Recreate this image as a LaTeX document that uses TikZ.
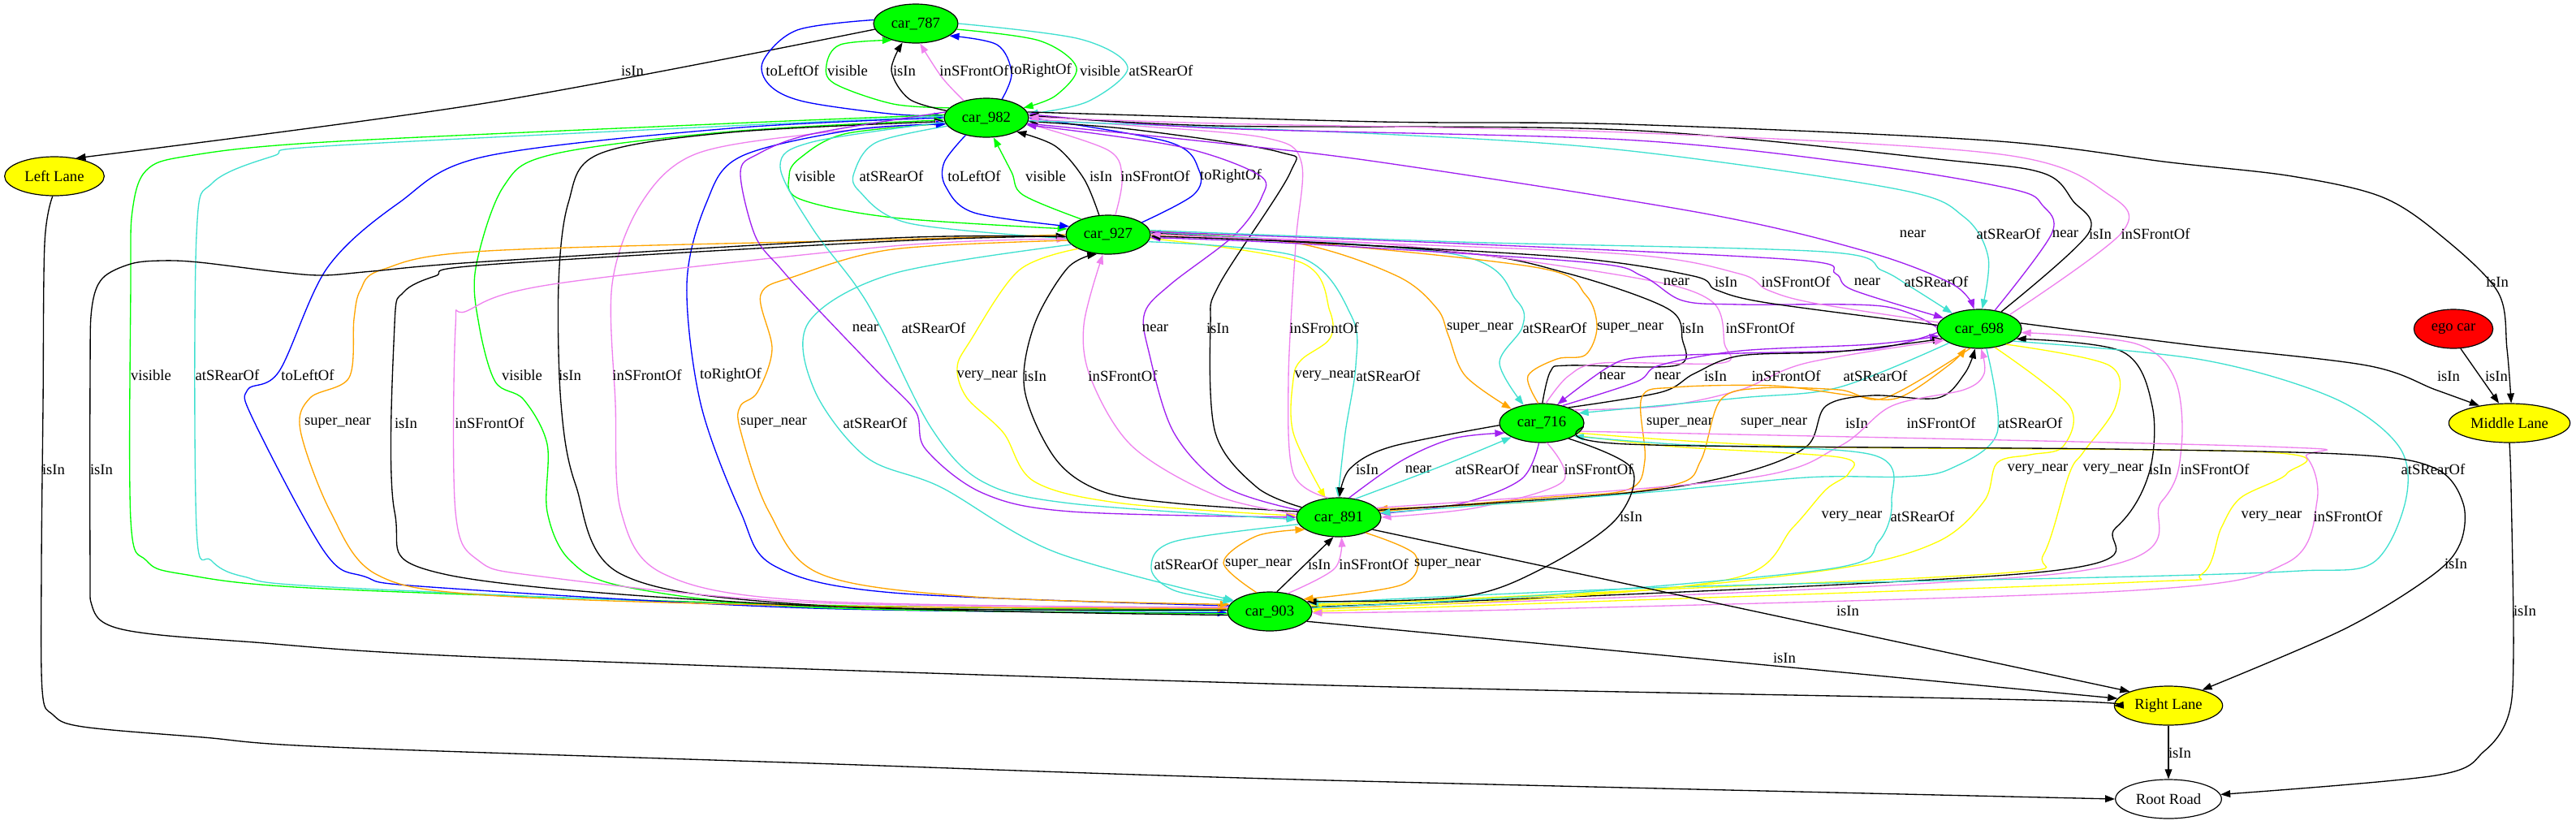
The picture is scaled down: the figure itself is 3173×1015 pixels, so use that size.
\documentclass[tikz,border=0pt]{standalone}
\usepackage{fontspec}
\setmainfont{Liberation Serif}
\usetikzlibrary{arrows.meta, shapes.geometric}
\definecolor{gvgreen}{HTML}{00FF00}
\definecolor{gvblue}{HTML}{0000FF}
\definecolor{gvviolet}{HTML}{EE82EE}
\definecolor{gvpurple}{HTML}{A020F0}
\definecolor{gvturq}{HTML}{40E0D0}
\definecolor{gvorange}{HTML}{FFA500}
\definecolor{gvyellow}{HTML}{FFFF00}
\definecolor{gvred}{HTML}{FF0000}
\newcommand{\rel}[5]{
    \draw[rel, #1] plot[smooth, tension=0.55] coordinates {#5};
    \node[lab] (#2) at (#3) {#4};
}

\begin{document}
\begin{tikzpicture}[x=0.75pt, y=-0.75pt,
    obj/.style={ellipse, draw, line width=0.9pt, minimum height=36pt, inner sep=0pt, font=\fontsize{14}{16}\selectfont},
    car/.style={obj, fill=gvgreen, minimum width=78pt},
    lane/.style={obj, fill=gvyellow},
    rel/.style={line width=1pt, -{Triangle[length=9pt, width=6.5pt]}},
    lab/.style={inner sep=0pt, font=\fontsize{14}{16}\selectfont}]
    \useasboundingbox (0,0) rectangle (3173,1015);
    \node[car] (car787) at (1128,29) {car\_787};
    \node[car] (car982) at (1215,145) {car\_982};
    \node[car] (car927) at (1365,289) {car\_927};
    \node[car] (car716) at (1899,521) {car\_716};
    \node[car] (car698) at (2438,405) {car\_698};
    \node[car] (car891) at (1649,637) {car\_891};
    \node[car] (car903) at (1564,753) {car\_903};
    \node[lane, minimum width=92pt] (leftlane) at (67,217) {Left Lane};
    \node[lane, minimum width=112pt] (middlelane) at (3091,521) {Middle Lane};
    \node[lane, minimum width=100pt] (rightlane) at (2671,869) {Right Lane};
    \node[obj, fill=white, minimum width=98pt] (rootroad) at (2671,984) {Root Road};
    \node[obj, fill=gvred, minimum width=73pt] (egocar) at (3022,405) {ego car};

    \rel{black}{l1}{779,87}{isIn}{(car787.188) (598,127) (leftlane.40)}
    \rel{gvblue}{l2}{976,87}{toLeftOf}{(car787.175) (982,37) (940,75) (948,105) (990,125) (1095,140) (car982.178)}
    \rel{gvgreen}{l3}{1044,87}{visible}{(car982.165) (1100,128) (1028,103) (1018,80) (1035,55) (car787.215)}
    \rel{black}{l4}{1114,87}{isIn}{(car982.170) (1120,122) (1098,87) (car787.235)}
    \rel{gvviolet}{l5}{1200,87}{inSFrontOf}{(car982.143) (1160,95) (car787.282)}
    \rel{gvblue}{l6}{1282,87}{toRightOf}{(car982.50) (1246,90) (1228,55) (car787.340)}
    \rel{gvgreen}{l7}{1355,87}{visible}{(car787.352) (1280,50) (1326,83) (1300,118) (car982.15)}
    \rel{gvturq}{l8}{1430,87}{atSRearOf}{(car787.0) (1330,48) (1389,83) (1340,125) (car982.5)}

    \rel{gvgreen}{l9}{1004,217}{visible}{(car982.188) (1040,165) (985,195) (972,217) (985,245) (1100,268) (car927.172)}
    \rel{gvturq}{l10}{1098,217}{atSRearOf}{(car982.192) (1080,175) (1053,210) (1058,235) (1120,275) (car927.185)}
    \rel{gvblue}{l11}{1200,217}{toLeftOf}{(car982.220) (1163,200) (1165,230) (1200,262) (car927.168)}
    \rel{gvgreen}{l12}{1288,217}{visible}{(car927.150) (1260,240) (1246,212) (car982.290)}
    \rel{black}{l13}{1356,217}{isIn}{(car927.115) (1335,220) (1300,180) (car982.335)}
    \rel{gvviolet}{l14}{1423,217}{inSFrontOf}{(car927.70) (1382,220) (1365,185) (car982.352)}
    \rel{gvblue}{l15}{1516,217}{toRightOf}{(car927.20) (1470,240) (1477,210) (1440,175) (car982.0)}

    \rel{gvgreen}{l16}{186,462}{visible}{(car982.176) (900,152) (400,175) (232,192) (180,210) (163,260) (161,350) (161,640) (180,690) (225,707) (400,725) (1000,745) (car903.178)}
    \rel{gvturq}{l17}{280,462}{atSRearOf}{(car982.178) (900,155) (400,180) (337,192) (262,225) (242,290) (242,650) (260,690) (300,710) (408,723) (1000,747) (car903.180)}
    \rel{gvblue}{l18}{379,462}{toLeftOf}{(car982.180) (900,158) (596,193) (491,250) (403,330) (344,457) (305,480) (312,517) (400,680) (449,710) (531,723) (1000,749) (car903.182)}
    \rel{gvgreen}{l19}{643,462}{visible}{(car903.183) (1000,748) (772,723) (702,690) (674,630) (674,547) (645,492) (610,470) (590,400) (586,330) (620,230) (681,190) (900,162) (car982.183)}
    \rel{black}{l20}{702,462}{isIn}{(car903.185) (1000,745) (765,707) (709,597) (691,497) (688,350) (700,250) (737,190) (900,163) (car982.185)}
    \rel{gvviolet}{l21}{797,462}{inSFrontOf}{(car903.175) (1000,740) (818,707) (765,630) (758,497) (754,350) (790,250) (856,190) (1000,165) (car982.187)}
    \rel{gvblue}{l22}{900,462}{toRightOf}{(car903.172) (1100,730) (954,697) (912,630) (863,497) (846,350) (870,250) (912,193) (1050,160) (car982.189)}

    \rel{gvorange}{l23}{416,521}{super\_near}{(car927.180) (1100,295) (600,309) (471,332) (444,357) (436,393) (430,465) (382,490) (370,530) (407,630) (463,707) (600,733) (1000,746) (car903.176)}
    \rel{black}{l24}{500,521}{isIn}{(car903.178) (1000,746) (547,707) (486,630) (486,400) (497,360) (536,340) (600,326) (1100,297) (car927.182)}
    \rel{gvviolet}{l25}{603,521}{inSFrontOf}{(car903.174) (1000,742) (667,710) (589,690) (561,630) (561,403) (575,383) (681,350) (1100,303) (car927.186)}
    \rel{gvorange}{l26}{953,521}{super\_near}{(car927.188) (1100,307) (980,340) (937,363) (951,430) (933,483) (912,500) (912,530) (947,630) (1011,707) (1200,735) (car903.170)}
    \rel{gvturq}{l27}{1078,521}{atSRearOf}{(car927.195) (1100,337) (996,397) (1003,480) (1067,563) (1159,600) (1300,680) (car903.163)}

    \rel{gvyellow}{l28}{1216,463}{very\_near}{(car927.205) (1255,333) (1195,420) (1179,453) (1191,490) (1236,533) (1274,593) (1383,620) (car891.178)}
    \rel{black}{l29}{1275,463}{isIn}{(car891.172) (1450,620) (1357,605) (1300,565) (1262,480) (1274,400) (1315,330) (car927.240)}
    \rel{gvviolet}{l30}{1383,463}{inSFrontOf}{(car891.176) (1497,610) (1395,550) (1344,467) (1335,400) (car927.255)}
    \rel{gvyellow}{l31}{1632,463}{very\_near}{(car927.355) (1602,323) (1638,383) (1638,417) (1603,443) (1593,467) (1593,533) (car891.125)}
    \rel{gvturq}{l32}{1710,463}{atSRearOf}{(car927.350) (1602,317) (1665,390) (1670,450) (1657,533) (car891.92)}

    \rel{gvpurple}{l33}{1066,404}{near}{(car982.172) (1000,165) (933,190) (912,213) (930,290) (961,330) (1000,373) (1083,460) (1128,507) (1140,553) (1210,607) (1319,630) (car891.180)}
    \rel{gvturq}{l34}{1150,404}{atSRearOf}{(car982.186) (1000,175) (961,205) (1000,280) (1053,350) (1083,400) (1147,527) (1210,593) (1319,620) (car891.183)}
    \rel{gvpurple}{l35}{1423,404}{near}{(car891.170) (1510,600) (1446,533) (1415,433) (1410,385) (1442,350) (1520,290) (1554,243) (1550,215) (1450,180) (car982.350)}
    \rel{black}{l36}{1500,404}{isIn}{(car891.165) (1548,600) (1497,533) (1491,400) (1502,350) (1589,213) (1575,187) (1400,160) (car982.355)}
    \rel{gvviolet}{l37}{1631,404}{inSFrontOf}{(car891.118) (1593,583) (1587,467) (1596,300) (1603,200) (1560,170) (1400,155) (car982.358)}

    \rel{gvorange}{l38}{1823,404}{super\_near}{(car927.5) (1600,300) (1721,340) (1770,380) (1784,413) (1805,463) (car716.155)}
    \rel{gvturq}{l39}{1915,404}{atSRearOf}{(car927.3) (1791,313) (1868,370) (1875,403) (1847,447) (car716.135)}
    \rel{gvorange}{l40}{2008,404}{super\_near}{(car716.100) (1882,463) (1918,442) (1953,437) (1967,403) (1953,363) (1896,330) (1600,298) (car927.0)}
    \rel{black}{l41}{2085,404}{isIn}{(car716.88) (1910,457) (1932,450) (2065,450) (2072,417) (2054,380) (1932,337) (1791,310) (car927.2)}
    \rel{gvviolet}{l42}{2168,404}{inSFrontOf}{(car716.78) (1932,463) (1974,447) (2121,447) (2124,423) (2107,370) (2002,340) (1700,300) (car927.357)}

    \rel{gvpurple}{l43}{2065,347}{near}{(car698.178) (2318,377) (2142,375) (2072,370) (2023,340) (1953,323) (1600,300) (car927.356)}
    \rel{black}{l44}{2126,347}{isIn}{(car698.175) (2177,373) (2114,357) (2086,340) (1932,317) (1600,298) (car927.358)}
    \rel{gvviolet}{l45}{2212,347}{inSFrontOf}{(car698.171) (2233,373) (2177,357) (2142,337) (2002,313) (1600,296) (car927.1)}
    \rel{gvpurple}{l46}{2300,347}{near}{(car927.4) (1800,300) (2212,320) (2261,337) (2282,357) (car698.163)}
    \rel{gvturq}{l47}{2385,347}{atSRearOf}{(car927.6) (1800,298) (2247,310) (2318,333) (2353,353) (car698.150)}

    \rel{gvpurple}{l48}{2356,288}{near}{(car982.352) (1491,175) (1702,200) (2100,263) (2300,310) (2405,350) (car698.105)}
    \rel{gvturq}{l49}{2474,288}{atSRearOf}{(car982.356) (1700,165) (2000,185) (2337,233) (2419,267) (2449,317) (car698.82)}
    \rel{gvpurple}{l50}{2544,288}{near}{(car698.50) (2527,288) (2516,253) (2479,233) (2299,203) (2000,172) (1500,158) (car982.5)}
    \rel{black}{l51}{2587,288}{isIn}{(car698.38) (2572,288) (2553,247) (2516,213) (2396,197) (2000,160) (1500,155) (car982.3)}
    \rel{gvviolet}{l52}{2655,288}{inSFrontOf}{(car698.25) (2613,287) (2598,240) (2464,190) (2000,163) (1500,152) (car982.1)}

    \rel{gvpurple}{l53}{1986,463}{near}{(car698.185) (2306,430) (2144,435) (2022,440) (1981,452) (car716.50)}
    \rel{gvpurple}{l54}{2054,463}{near}{(car716.40) (2016,470) (2044,450) (2144,432) (2306,424) (car698.190)}
    \rel{black}{l55}{2113,463}{isIn}{(car716.30) (2046,483) (2087,460) (2144,438) (2265,433) (car698.195)}
    \rel{gvviolet}{l56}{2200,463}{inSFrontOf}{(car716.22) (2050,500) (2144,480) (2225,447) (car698.198)}
    \rel{gvturq}{l57}{2310,463}{atSRearOf}{(car698.205) (2265,477) (2144,490) (car716.15)}

    \rel{black}{l58}{1684,578}{isIn}{(car716.183) (1714,550) (1663,577) (car891.88)}
    \rel{gvpurple}{l59}{1747,578}{near}{(car891.62) (1727,567) (1790,540) (car716.195)}
    \rel{gvturq}{l60}{1832,578}{atSRearOf}{(car891.48) (1778,573) (car716.205)}
    \rel{gvpurple}{l61}{1903,578}{near}{(car716.262) (1874,590) (1800,620) (car891.5)}
    \rel{gvviolet}{l62}{1969,578}{inSFrontOf}{(car716.285) (1925,593) (1820,625) (car891.0)}

    \rel{gvorange}{l63}{2069,521}{super\_near}{(car891.8) (1900,613) (2005,603) (2026,567) (2022,490) (2062,477) (2184,475) (2281,487) (2338,490) (2400,450) (car698.235)}
    \rel{gvorange}{l64}{2185,521}{super\_near}{(car698.245) (2322,490) (2265,480) (2168,478) (2119,493) (2095,567) (2062,597) (1900,617) (car891.12)}
    \rel{black}{l65}{2287,521}{isIn}{(car891.10) (2005,607) (2144,583) (2225,550) (2249,500) (2306,487) (2387,490) (2420,460) (car698.258)}
    \rel{gvviolet}{l66}{2391,521}{inSFrontOf}{(car891.14) (2144,590) (2265,550) (2330,500) (2419,480) (2444,460) (car698.275)}
    \rel{gvturq}{l67}{2501,521}{atSRearOf}{(car698.290) (2460,533) (2403,577) (2346,587) (2225,588) (2022,607) (car891.6)}

    \rel{gvyellow}{l68}{2510,578}{very\_near}{(car698.310) (2549,500) (2541,550) (2501,560) (2460,570) (2444,617) (2387,667) (2265,700) (1981,730) (car903.10)}
    \rel{gvyellow}{l69}{2603,578}{very\_near}{(car698.330) (2598,450) (2606,500) (2566,557) (2549,583) (2517,683) (2476,705) (2022,727) (car903.8)}
    \rel{black}{l70}{2661,578}{isIn}{(car903.6) (2509,705) (2606,650) (2647,583) (2651,500) (2614,433) (car698.345)}
    \rel{gvviolet}{l71}{2728,578}{inSFrontOf}{(car903.4) (2549,705) (2663,617) (2687,550) (2679,467) (2630,423) (car698.355)}
    \rel{gvturq}{l72}{2997,578}{atSRearOf}{(car698.340) (2712,443) (2874,490) (2955,550) (2963,617) (2923,693) (2833,703) (2630,710) (2062,723) (car903.12)}

    \rel{black}{l73}{2009,636}{isIn}{(car716.330) (2010,577) (1990,640) (1900,700) (1800,735) (car903.15)}
    \rel{gvyellow}{l74}{2281,636}{very\_near}{(car716.340) (2062,550) (2265,563) (2277,583) (2249,603) (2208,650) (2144,710) (1900,737) (car903.3)}
    \rel{gvturq}{l75}{2368,636}{atSRearOf}{(car903.5) (1900,733) (2257,700) (2314,667) (2330,617) (2306,560) (2062,547) (car716.338)}
    \rel{gvyellow}{l76}{2798,636}{very\_near}{(car716.345) (2225,550) (2793,557) (2817,583) (2760,613) (2736,650) (2712,707) (2630,717) (1900,743) (car903.0)}
    \rel{gvviolet}{l77}{2892,636}{inSFrontOf}{(car716.348) (2793,550) (2841,563) (2854,617) (2817,693) (2630,727) (1900,750) (car903.358)}

    \rel{gvturq}{l78}{1461,695}{atSRearOf}{(car891.190) (1446,667) (1418,700) (1446,727) (car903.165)}
    \rel{gvorange}{l79}{1550,695}{super\_near}{(car903.125) (1507,693) (1548,660) (car891.200)}
    \rel{black}{l80}{1625,695}{isIn}{(car903.70) (car891.255)}
    \rel{gvviolet}{l81}{1692,695}{inSFrontOf}{(car903.45) (1644,700) (car891.278)}
    \rel{gvorange}{l82}{1783,695}{super\_near}{(car891.330) (1743,683) (1727,720) (car903.20)}

    \rel{black}{l83}{125,578}{isIn}{(car927.183) (1100,293) (600,322) (459,334) (398,339) (344,335) (245,323) (199,321) (161,325) (126,343) (113,380) (111,460) (111,700) (113,745) (130,768) (180,780) (300,790) (612,810) (1600,843) (2500,862) (rightlane.180)}
    \rel{black}{l84}{66,578}{isIn}{(leftlane.265) (55,300) (53,500) (51,700) (52,850) (65,880) (102,895) (250,908) (408,920) (1000,940) (1600,960) (rootroad.180)}
    \rel{black}{l85}{2276,752}{isIn}{(car891.340) (rightlane.160)}
    \rel{black}{l86}{2198,810}{isIn}{(car903.345) (rightlane.172)}
    \rel{black}{l87}{3025,694}{isIn}{(car716.355) (2005,547) (2600,553) (2900,560) (3000,577) (3034,620) (3030,670) (2994,710) (2887,775) (rightlane.25)}
    \rel{black}{l88}{3110,752}{isIn}{(middlelane.270) (3093,600) (3096,800) (3090,880) (3060,925) (3000,955) (rootroad.5)}
    \rel{black}{l89}{2685,927}{isIn}{(rightlane.south) (rootroad.north)}
    \rel{black}{l90}{3076,347}{isIn}{(car982.8) (1700,150) (2000,153) (2449,173) (2673,200) (2823,217) (2935,243) (3010,293) (3077,360) (3088,430) (middlelane.85)}
    \rel{black}{l91}{3075,463}{isIn}{(egocar.290) (middlelane.118)}
    \rel{black}{l92}{3016,463}{isIn}{(car698.8) (2700,425) (2915,450) (3000,480) (middlelane.150)}
\end{tikzpicture}
\end{document}
